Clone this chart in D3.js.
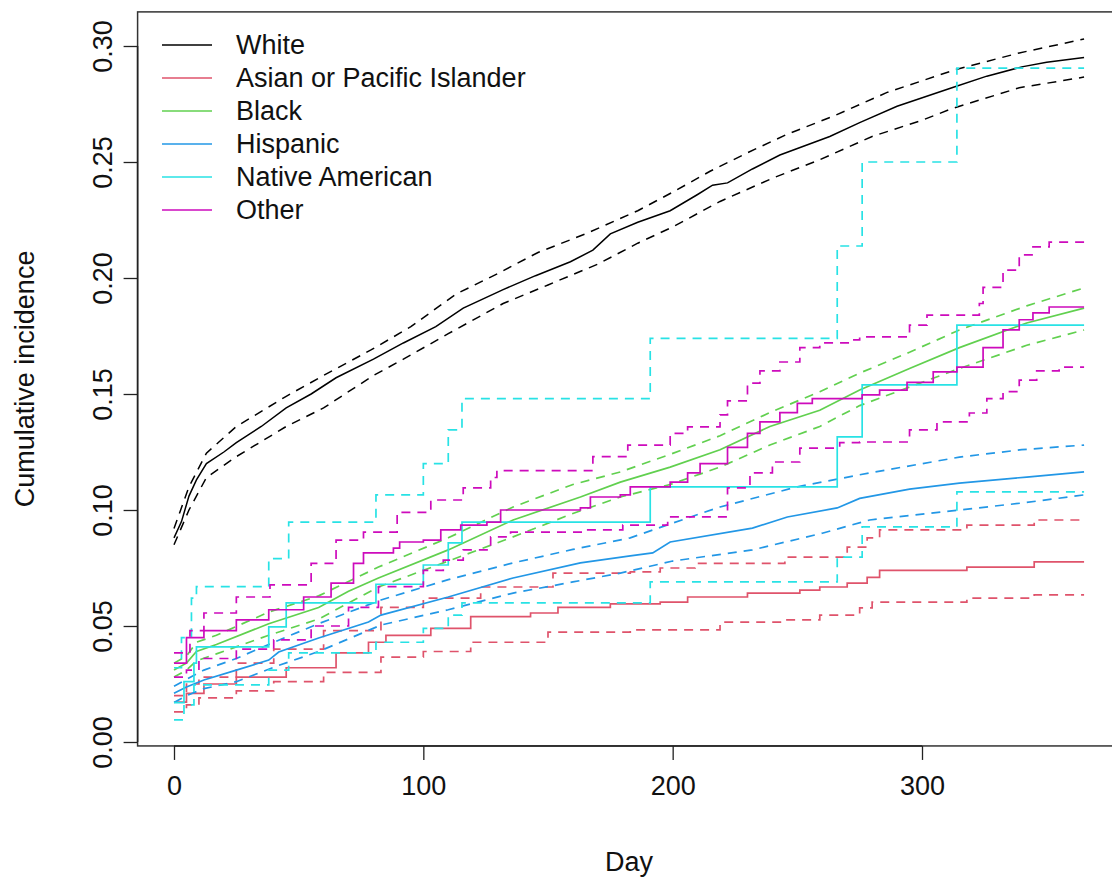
<!DOCTYPE html>
<html>
<head>
<meta charset="utf-8">
<script src="https://cdn.jsdelivr.net/npm/d3@7"></script>
<style>
	body { margin: 0; background: #fff; }
	svg { display: block; font-family: 'Liberation Sans', Arial, sans-serif; }
</style>
</head>
<body>
<svg id="chart" width="1112" height="880"></svg>
<script>
// group names and R default palette colours
const groups = ['White', 'Asian or Pacific Islander', 'Black', 'Hispanic', 'Native American', 'Other'];
const colors = ['#000000', '#DF536B', '#61D04F', '#2297E6', '#28E2E5', '#CD0BBC'];

const xTicks = [0, 100, 200, 300];
const yTicks = [0, 0.05, 0.1, 0.15, 0.2, 0.25, 0.3];

// [day, cumulative incidence]
const whiteEst = [[0,0.088],[3,0.095],[6,0.106],[9,0.113],[13,0.120],[20,0.125],[25,0.129],[35,0.136],[45,0.144],[55,0.150],[65,0.157],[80,0.165],[92,0.172],[105,0.179],[116,0.187],[132,0.195],[145,0.201],[159,0.207],[168,0.212],[175,0.219],[186,0.224],[199,0.229],[210,0.236],[216,0.240],[222,0.241],[232,0.247],[243,0.253],[263,0.261],[275,0.267],[290,0.274],[312,0.282],[326,0.287],[340,0.291],[350,0.293],[365,0.295]];
const whiteHi = [[0,0.092],[6,0.110],[13,0.1245],[25,0.136],[45,0.149],[60,0.158],[79,0.169],[95,0.179],[113,0.193],[130,0.202],[146,0.211],[165,0.219],[186,0.229],[200,0.237],[215,0.246],[230,0.254],[246,0.262],[265,0.270],[286,0.280],[300,0.285],[314,0.290],[339,0.297],[365,0.303]];
const whiteLo = [[0,0.085],[6,0.100],[13,0.114],[25,0.123],[45,0.136],[60,0.144],[80,0.158],[92,0.165],[110,0.176],[132,0.189],[150,0.197],[170,0.206],[186,0.215],[200,0.222],[219,0.233],[240,0.243],[259,0.251],[280,0.261],[300,0.268],[312,0.273],[339,0.282],[365,0.2866]];

const asianEst = [[0,0.0172],[5,0.021],[12,0.025],[25,0.028],[45,0.032],[65,0.0384],[78,0.043],[85,0.046],[103,0.049],[119,0.054],[143,0.0556],[154,0.058],[175,0.0595],[195,0.0603],[206,0.0625],[230,0.0642],[251,0.0655],[259,0.0668],[270,0.0685],[278,0.071],[283,0.074],[318,0.0754],[345,0.0776],[365,0.0776]];
const asianHi = [[0,0.020],[5,0.025],[10,0.028],[25,0.034],[40,0.040],[60,0.048],[83,0.058],[100,0.062],[123,0.0668],[152,0.0728],[183,0.0733],[195,0.075],[209,0.077],[245,0.0797],[270,0.084],[278,0.088],[283,0.0914],[318,0.0935],[345,0.0957],[365,0.0957]];
const asianLo = [[0,0.013],[5,0.016],[10,0.019],[25,0.022],[40,0.026],[60,0.030],[83,0.0366],[100,0.039],[119,0.043],[150,0.0474],[183,0.0483],[219,0.0517],[245,0.0526],[259,0.0547],[275,0.0578],[280,0.0603],[318,0.062],[345,0.0634],[365,0.0634]];

const blackEst = [[0,0.031],[5,0.034],[9,0.039],[17,0.042],[38,0.051],[58,0.058],[70,0.065],[82,0.0707],[110,0.0828],[136,0.0957],[163,0.1056],[179,0.112],[199,0.1185],[219,0.126],[239,0.136],[259,0.143],[275,0.1517],[295,0.161],[315,0.170],[342,0.1806],[365,0.187]];
const blackHi = [[0,0.034],[5,0.037],[9,0.043],[17,0.046],[38,0.056],[58,0.063],[82,0.0754],[110,0.088],[136,0.1013],[160,0.111],[179,0.1164],[199,0.124],[219,0.132],[239,0.142],[259,0.151],[275,0.159],[295,0.168],[315,0.1776],[342,0.188],[365,0.1957]];
const blackLo = [[0,0.028],[5,0.031],[9,0.035],[17,0.038],[38,0.046],[58,0.053],[82,0.0668],[110,0.078],[136,0.0884],[160,0.0985],[179,0.1056],[199,0.111],[219,0.1185],[239,0.128],[259,0.136],[275,0.145],[295,0.153],[315,0.161],[342,0.171],[365,0.1776]];

const hispEst = [[0,0.021],[5,0.0237],[12,0.0267],[25,0.031],[38,0.0353],[42,0.0388],[58,0.0448],[78,0.0517],[83,0.0547],[110,0.0625],[136,0.0707],[163,0.0772],[183,0.0802],[192,0.0815],[199,0.0862],[232,0.0922],[246,0.097],[266,0.1009],[275,0.105],[295,0.109],[315,0.1116],[342,0.1142],[365,0.1164]];
const hispHi = [[0,0.024],[5,0.027],[12,0.031],[25,0.036],[40,0.043],[58,0.051],[83,0.0612],[110,0.070],[136,0.0772],[160,0.083],[183,0.088],[199,0.094],[219,0.1013],[250,0.110],[279,0.116],[315,0.1228],[340,0.126],[365,0.128]];
const hispLo = [[0,0.017],[5,0.020],[12,0.023],[25,0.026],[42,0.033],[58,0.039],[83,0.0504],[110,0.057],[136,0.0642],[160,0.069],[179,0.0728],[200,0.078],[232,0.0828],[260,0.090],[279,0.0957],[315,0.100],[340,0.103],[365,0.1065]];

const nativeEst = [[0,0.017],[4,0.026],[8,0.034],[9,0.041],[38,0.0496],[45,0.060],[81,0.068],[100,0.0763],[110,0.0858],[115.5,0.0948],[191,0.110],[266,0.1315],[276,0.1539],[314,0.1797],[365,0.1797]];
const nativeHi = [[0,0.032],[3,0.045],[7,0.062],[9,0.067],[38,0.079],[46,0.0948],[81,0.1065],[100,0.120],[110,0.1345],[115.5,0.148],[191,0.174],[266,0.2138],[276,0.250],[314,0.2905],[365,0.2905]];
const nativeLo = [[0,0.0095],[4,0.016],[8,0.0246],[38,0.031],[46,0.0384],[81,0.043],[100,0.049],[110,0.0547],[115.5,0.060],[191,0.069],[266,0.0797],[276,0.0927],[314,0.1078],[365,0.1078]];

const otherEst = [[0,0.034],[5,0.045],[12,0.048],[25,0.0526],[38,0.057],[52,0.0625],[63,0.0685],[72,0.077],[76,0.0815],[88,0.0836],[90.5,0.0862],[100,0.087],[107,0.0914],[115,0.0935],[125.5,0.0948],[131,0.100],[163,0.1009],[167,0.1056],[179,0.1065],[183,0.110],[199,0.112],[206,0.116],[211,0.120],[222,0.127],[230,0.133],[235,0.138],[243,0.142],[250,0.146],[256,0.148],[276,0.1496],[283,0.1517],[294,0.155],[304.5,0.1595],[314,0.1616],[324.5,0.170],[332.5,0.1776],[339,0.182],[344.5,0.185],[351,0.1875],[365,0.1875]];
const otherHi = [[0,0.0384],[6.4,0.048],[12,0.0556],[25,0.0625],[38.5,0.0677],[55,0.077],[65,0.087],[76,0.0905],[89.5,0.099],[103,0.1043],[116,0.1095],[127,0.114],[129.5,0.117],[168,0.123],[182,0.128],[199,0.133],[206,0.1358],[219,0.141],[222,0.147],[230,0.1547],[235,0.160],[243,0.1638],[251,0.170],[259,0.172],[271,0.1733],[275,0.1746],[295,0.1797],[302,0.184],[323,0.189],[324.5,0.196],[332.5,0.2034],[339,0.210],[344.5,0.2134],[351,0.2155],[365,0.2155]];
const otherLo = [[0,0.028],[5,0.031],[10,0.036],[25,0.040],[40,0.044],[55,0.050],[70,0.058],[82,0.067],[100,0.074],[108,0.0784],[116,0.0828],[127,0.0884],[135,0.0905],[165,0.0914],[180,0.0935],[198,0.097],[222,0.1095],[231,0.116],[240,0.1207],[251,0.1267],[267,0.129],[275,0.1293],[295,0.1345],[306,0.138],[319,0.1418],[326,0.148],[332.5,0.151],[339,0.156],[346,0.160],[355,0.1616],[365,0.1616]];

// est, lower, upper per group (same order as groups)
const curves = [
	[whiteEst, whiteLo, whiteHi],
	[asianEst, asianLo, asianHi],
	[blackEst, blackLo, blackHi],
	[hispEst, hispLo, hispHi],
	[nativeEst, nativeLo, nativeHi],
	[otherEst, otherLo, otherHi],
];
// groups with many events look smooth, the small ones are plain steps
const smooth = [true, false, true, true, false, false];

const svg = d3.select('#chart');

const x = d3.scaleLinear().domain([0, 300]).range([174, 922]);
const y = d3.scaleLinear().domain([0, 0.3]).range([742, 46]);

// R pads the data range by 4%
const box = {
	left: x(-14.6),
	right: x(379.6),
	top: y(0.3147),
	bottom: y(-0.0017),
};

const defs = svg.append('defs');
defs.append('clipPath')
	.attr('id', 'plot-area')
	.append('rect')
	.attr('x', box.left)
	.attr('y', box.top)
	.attr('width', box.right - box.left)
	.attr('height', box.bottom - box.top);

const plot = svg.append('g').attr('clip-path', 'url(#plot-area)');

curves.forEach((set, gi) => {
	const line = d3.line()
		.x((d) => x(d[0]))
		.y((d) => y(d[1]))
		.curve(smooth[gi] ? d3.curveLinear : d3.curveStepAfter);

	plot.append('g')
		.attr('class', 'group')
		.selectAll('path')
		.data(set)
		.join('path')
		.attr('d', (d) => line(d))
		.attr('fill', 'none')
		.attr('stroke', colors[gi])
		.attr('stroke-width', gi === 0 ? 1.5 : 1.7)
		.attr('stroke-dasharray', (d, i) => (i === 0 ? null : '9,7'));
});

// frame
svg.append('rect')
	.attr('x', box.left)
	.attr('y', box.top)
	.attr('width', box.right - box.left)
	.attr('height', box.bottom - box.top)
	.attr('fill', 'none')
	.attr('stroke', '#333')
	.attr('stroke-width', 1.5);

// x axis
const xAxis = svg.append('g').attr('transform', `translate(0,${box.bottom})`);
xAxis.call(
	d3.axisBottom(x).tickValues(xTicks).tickSize(14).tickPadding(16).tickFormat(d3.format('d'))
);
xAxis.select('.domain').attr('d', `M${x(0)},0H${x(300)}`).attr('stroke', '#222').attr('stroke-width', 1.5);
xAxis.selectAll('.tick line').attr('stroke', '#222').attr('stroke-width', 1.3);
xAxis.selectAll('.tick text')
	.attr('font-size', 27)
	.attr('font-family', "'Liberation Sans', Arial, sans-serif")
	.attr('fill', '#111');

// y axis, labels turned like R's las = 0
const yAxis = svg.append('g').attr('transform', `translate(${box.left},0)`);
yAxis.call(d3.axisLeft(y).tickValues(yTicks).tickSize(14).tickFormat(d3.format('.2f')));
yAxis.select('.domain').attr('d', `M0,${y(0)}V${y(0.3)}`).attr('stroke', '#222').attr('stroke-width', 1.5);
yAxis.selectAll('.tick line').attr('stroke', '#222').attr('stroke-width', 1.3);
yAxis.selectAll('.tick text')
	.attr('x', null)
	.attr('dy', null)
	.attr('text-anchor', 'middle')
	.attr('transform', `translate(-26,0) rotate(-90)`)
	.attr('font-size', 27)
	.attr('font-family', "'Liberation Sans', Arial, sans-serif")
	.attr('fill', '#111');

// axis titles
svg.append('text')
	.attr('x', (box.left + box.right) / 2)
	.attr('y', 871)
	.attr('text-anchor', 'middle')
	.attr('font-size', 27)
	.attr('fill', '#111')
	.text('Day');

svg.append('text')
	.attr('transform', `translate(34,${(box.top + box.bottom) / 2}) rotate(-90)`)
	.attr('text-anchor', 'middle')
	.attr('font-size', 27)
	.attr('fill', '#111')
	.text('Cumulative incidence');

// legend (no box)
const legend = svg.append('g')
	.selectAll('g')
	.data(groups)
	.join('g')
	.attr('transform', (d, i) => `translate(162,${45 + i * 33})`);

legend.append('line')
	.attr('x1', 0)
	.attr('x2', 50)
	.attr('stroke', (d, i) => colors[i])
	.attr('stroke-width', 1.7);

legend.append('text')
	.attr('x', 74)
	.attr('dy', '0.35em')
	.attr('font-size', 27)
	.attr('fill', '#111')
	.text((d) => d);
</script>
</body>
</html>
